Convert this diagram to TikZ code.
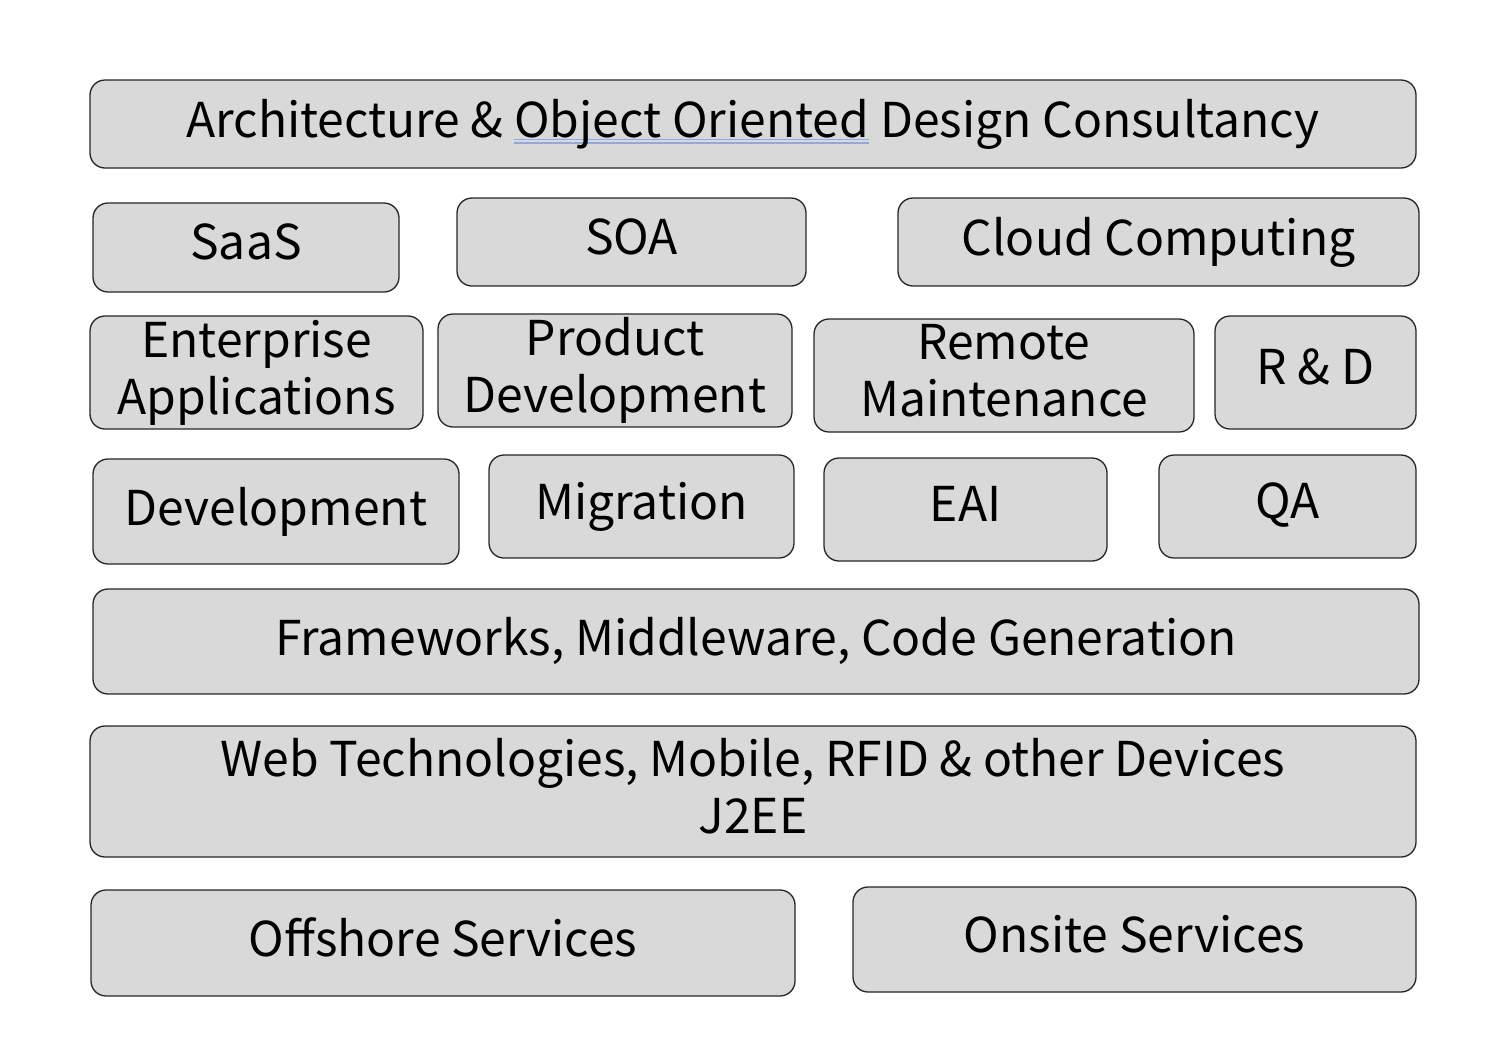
\documentclass[tikz,border=0pt]{standalone}
\usepackage{fontspec}
\setmainfont{Noto Sans CJK JP}
\usepackage{tikz}
\usetikzlibrary{positioning}
\definecolor{boxfill}{HTML}{D9D9D9}
\definecolor{spellblue}{HTML}{8FAADC}
\newcommand\spellmark[1]{\setbox0\hbox{#1}%
  \rlap{\color{spellblue}\smash{\rule[-0.06em]{\wd0}{0.035em}}}%
  \rlap{\color{spellblue}\smash{\rule[-0.125em]{\wd0}{0.035em}}}\box0\relax}

\begin{document}
\begin{tikzpicture}[
    x=1pt, y=-1pt,
    font=\fontsize{48}{57}\selectfont,
    tile/.style={
		rectangle,
		rounded corners=15pt,
		draw=black!85,
		line width=1.3pt,
		fill=boxfill,
		text centered,
		align=center,
		text depth=11pt,
		inner sep=0pt
	}
  ]
  \useasboundingbox (0,0) rectangle (1493,1037);
    % top row
  \node [tile, minimum width=1326pt, minimum height=88pt] (archi) at (753,124)
 {Architecture \& \spellmark{Object Oriented} Design Consultancy};

  \node [tile, minimum width=306pt, minimum height=89pt] (saas) at (246,247.5) {SaaS};
  \node [tile, minimum width=349pt, minimum height=88pt] (soa) at (631.5,242) {SOA};
  \node [tile, minimum width=521pt, minimum height=88pt] (cloud) at (1158.5,242) {Cloud Computing};

  \node [tile, minimum width=333pt, minimum height=113pt] (enterprise) at (256.5,372.5) {Enterprise\\Applications};
  \node [tile, minimum width=354pt, minimum height=113pt] (product) at (615,370.5) {Product\\Development};
  \node [tile, minimum width=380pt, minimum height=113pt] (remote) at (1004,375.5) {Remote\\Maintenance};
  \node [tile, minimum width=201pt, minimum height=113pt] (rnd) at (1315.5,372.5) {R \& D};

  \node [tile, minimum width=366pt, minimum height=105pt] (devel) at (276,511.5) {Development};
  \node [tile, minimum width=305pt, minimum height=103pt] (migration) at (641.5,506.5) {Migration};
  \node [tile, minimum width=283pt, minimum height=103pt] (eai) at (965.5,509.5) {EAI};
  \node [tile, minimum width=257pt, minimum height=103pt] (qa) at (1287.5,506.5) {QA};

    % wide layers
  \node [tile, minimum width=1326pt, minimum height=105pt] (frameworks) at (756,641.5)
 {Frameworks, Middleware, Code Generation};
  \node [tile, minimum width=1326pt, minimum height=131pt] (webtech) at (753,791.5)
 {Web Technologies, Mobile, RFID \& other Devices\\J2EE};

    % services
  \node [tile, minimum width=704pt, minimum height=106pt] (offshore) at (443,943) {Offshore Services};
  \node [tile, minimum width=563pt, minimum height=105pt] (onsite) at (1134.5,939.5) {Onsite Services};
\end{tikzpicture}
\end{document}
